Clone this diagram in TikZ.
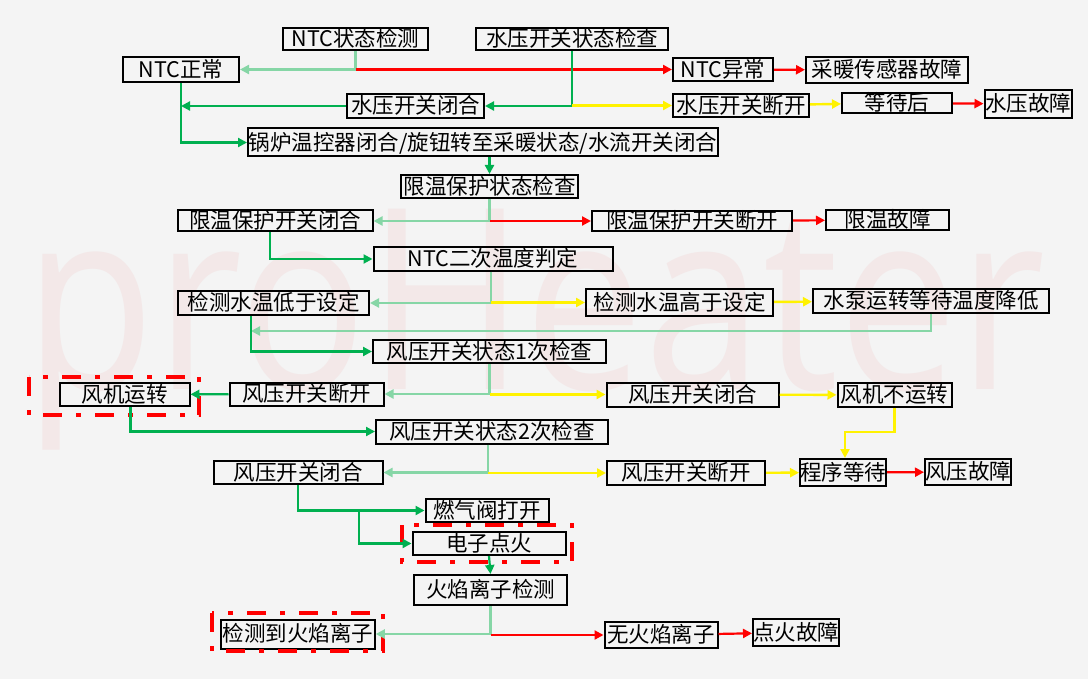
\documentclass[tikz,border=0pt]{standalone}
\usepackage{fontspec}
\newfontfamily\cjk{Noto Sans CJK SC}
\newfontfamily\wmfont{Open Sans}
\usetikzlibrary{arrows.meta}
\definecolor{bggray}{HTML}{F4F4F4}
\definecolor{okgreen}{HTML}{00B050}
\definecolor{palegreen}{HTML}{86D6A6}
\definecolor{wmpink}{HTML}{F3E8E8}

\tikzset{
  box/.style={draw, line width=2pt, inner sep=0pt, text height=17.5pt, text depth=2pt,
    font=\cjk\fontsize{21.5}{24}\selectfont},
  tip/.style={-{Triangle[length=9pt,width=9pt]}},
  gline/.style={okgreen, line width=2.2pt, tip},
  lgline/.style={palegreen, line width=2.2pt, tip},
  rline/.style={red, line width=2.2pt, tip},
  yline/.style={yellow, line width=2.4pt, tip},
  hilite/.style={red, line width=4pt, dash pattern=on 19pt off 14pt on 5pt off 14pt}
}

\begin{document}
\begin{tikzpicture}[x=1pt,y=-1pt]
\useasboundingbox (0,0) rectangle (1088,679);
\fill[bggray] (0,0) rectangle (1088,679);
\node[wmpink, inner sep=0pt] (mark) at (535,330) {\resizebox{1020pt}{180pt}{\wmfont proHeater}};

% checks at the top
\node[box, minimum width=145pt, minimum height=22pt] (ntcchk) at (355.5,39) {NTC状态检测};
\node[box, minimum width=192pt, minimum height=22pt] (wpchk) at (572,39) {水压开关状态检查};
\node[box, minimum width=116pt, minimum height=25pt] (ntcok) at (181,69.5) {NTC正常};
\node[box, minimum width=100pt, minimum height=23pt] (ntcerr) at (723,69.5) {NTC异常};
\node[box, minimum width=162pt, minimum height=26pt] (sensorerr) at (887,70) {采暖传感器故障};
\node[box, minimum width=137pt, minimum height=24pt] (wpon) at (415.5,106) {水压开关闭合};
\node[box, minimum width=136pt, minimum height=23pt] (wpoff) at (741,105.5) {水压开关断开};
\node[box, minimum width=110pt, minimum height=20pt] (waitw) at (897,103) {等待后};
\node[box, minimum width=87pt, minimum height=28pt] (wperr) at (1028,104) {水压故障};
\node[box, minimum width=470pt, minimum height=28pt] (boiler) at (483,142.5) {锅炉温控器闭合/旋钮转至采暖状态/水流开关闭合};

% limit thermostat
\node[box, minimum width=177pt, minimum height=23pt] (ltchk) at (489.5,186.5) {限温保护状态检查};
\node[box, minimum width=195pt, minimum height=21pt] (lton) at (275,221) {限温保护开关闭合};
\node[box, minimum width=200pt, minimum height=20pt] (ltoff) at (692,221) {限温保护开关断开};
\node[box, minimum width=123pt, minimum height=20pt] (lterr) at (887.5,220) {限温故障};
\node[box, minimum width=239pt, minimum height=24pt] (ntc2) at (493,259) {NTC二次温度判定};
\node[box, minimum width=191pt, minimum height=24pt] (lowt) at (273.5,303) {检测水温低于设定};
\node[box, minimum width=187pt, minimum height=27pt] (hight) at (679.5,302.5) {检测水温高于设定};
\node[box, minimum width=236pt, minimum height=24pt] (pumpw) at (931,301) {水泵运转等待温度降低};

% air pressure switch
\node[box, minimum width=233pt, minimum height=23.5pt] (ap1) at (489.5,351.5) {风压开关状态1次检查};
\node[box, minimum width=130pt, minimum height=23pt] (fanrun) at (124.5,394.5) {风机运转};
\node[box, minimum width=154pt, minimum height=23pt] (apoff1) at (306.5,394) {风压开关断开};
\node[box, minimum width=172pt, minimum height=24pt] (apon1) at (692.5,394.5) {风压开关闭合};
\node[box, minimum width=114pt, minimum height=24pt] (fanstop) at (894.5,395) {风机不运转};
\node[box, minimum width=232pt, minimum height=24pt] (ap2) at (492,431.5) {风压开关状态2次检查};
\node[box, minimum width=169pt, minimum height=23.5pt] (apon2) at (298,472.5) {风压开关闭合};
\node[box, minimum width=158pt, minimum height=24pt] (apoff2) at (686,473) {风压开关断开};
\node[box, minimum width=84pt, minimum height=27pt] (progw) at (843,472.5) {程序等待};
\node[box, minimum width=86pt, minimum height=26pt] (aperr) at (968,472) {风压故障};

% ignition
\node[box, minimum width=123pt, minimum height=23pt] (gasv) at (487,510.5) {燃气阀打开};
\node[box, minimum width=153pt, minimum height=23pt] (ign) at (489,543.5) {电子点火};
\node[box, minimum width=153pt, minimum height=30pt] (flchk) at (490.5,590) {火焰离子检测};
\node[box, minimum width=154pt, minimum height=29pt] (flok) at (297.8,634) {检测到火焰离子};
\node[box, minimum width=113pt, minimum height=26pt] (flno) at (661,635) {无火焰离子};
\node[box, minimum width=85pt, minimum height=27pt] (ignerr) at (796,632.5) {点火故障};

% red frames
\draw[hilite] (29,377) rectangle (199,415);
\draw[hilite] (402,525) rectangle (572,562);
\draw[hilite] (212,613) rectangle (383,651);

\coordinate (pumpret) at (251,331);
\coordinate (fsbend) at (845,432);
\coordinate (gasbr) at (359,510.5);

% connectors
\draw[lgline] (ntcchk.south) |- (ntcok.east);
\draw[rline] (ntcchk.south |- ntcerr.west) -- (ntcerr.west);
\draw[gline] (wpchk.south) |- (wpon.east);
\draw[yline] (wpchk.south |- wpoff.west) -- (wpoff.west);
\draw[rline] (ntcerr) -- (sensorerr);
\draw[yline] (wpoff) -- (waitw);
\draw[rline] (waitw) -- (wperr);
\draw[gline] (ntcok.south) |- (boiler.west);
\draw[gline] (wpon.west) -- (wpon.west -| ntcok.south);
\draw[gline] (ltchk.north |- boiler.south) -- (ltchk.north);

\draw[lgline] (ltchk.south) |- (lton.east);
\draw[rline] (ltchk.south |- ltoff.west) -- (ltoff.west);
\draw[rline] (ltoff) -- (lterr);
\draw[gline] ([xshift=-5pt]lton.south) |- (ntc2.west);
\draw[lgline] ([xshift=-2pt]ntc2.south) |- (lowt.east);
\draw[yline] ([xshift=-2pt]ntc2.south |- hight.west) -- (hight.west);
\draw[yline] (hight) -- (pumpw);
\draw[lgline] (pumpw.south) |- (pumpret);
\draw[gline] (lowt.south -| pumpret) |- (ap1.west);

\draw[lgline] (ap1.south) |- (apoff1.east);
\draw[yline] (ap1.south |- apon1.west) -- (apon1.west);
\draw[yline] (apon1) -- (fanstop);
\draw[gline] (apoff1) -- (fanrun);
\draw[yline] (fanstop.south) |- (fsbend) -- (fsbend |- progw.north);
\draw[gline] ([xshift=6pt]fanrun.south) |- (ap2.west);

\draw[lgline] ([xshift=-4pt]ap2.south) |- (apon2.east);
\draw[yline] ([xshift=-4pt]ap2.south |- apoff2.west) -- (apoff2.west);
\draw[yline] (apoff2) -- (progw);
\draw[rline] (progw) -- (aperr);
\draw[gline] (apon2.south) |- (gasv.west);
\draw[gline] (gasbr) |- (ign.west);
\draw[gline] (ign.south) -- (flchk.north);

\draw[lgline] (flchk.south) |- (flok.east);
\draw[rline] (flchk.south |- flno.west) -- (flno.west);
\draw[rline] (flno) -- (ignerr);
\end{tikzpicture}
\end{document}
